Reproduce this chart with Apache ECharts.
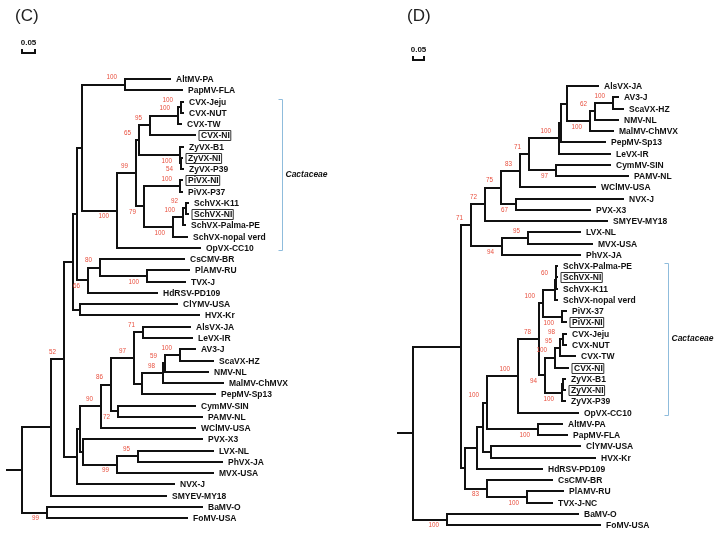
<!DOCTYPE html>
<html><head><meta charset="utf-8">
<script src="https://cdn.jsdelivr.net/npm/echarts@6/dist/echarts.min.js"></script>
<style>html,body{margin:0;padding:0;background:#fff}#c{width:722px;height:536px}</style>
</head><body><div id="c"></div>
<script>
// ---------- Tree (C): internal nodes [id, parent, depth] ----------
const leftInternal = [
 ['root',null,0],['D','root',0.112],['C','D',0.162],['B2','C',0.196],['B','B2',0.212],
 ['A','B',0.231],['AP','A',0.396],['Cact','A',0.365],['n99','Cact',0.438],['n65','n99',0.450],
 ['n95','n65',0.492],['nCVX','n95',0.600],['nCVXJN','nCVX',0.612],['nZy','n65',0.608],
 ['nZy54','nZy',0.612],['n79','n99',0.469],['nPi','n79',0.608],['nSch','n79',0.581],
 ['nSch100','nSch',0.619],['nSch92','nSch100',0.631],['Cs','B',0.254],['n80','Cs',0.300],
 ['nPT','n80',0.481],['nCH','B2',0.223],['E','C',0.212],['E2','E',0.223],['n90','E2',0.304],
 ['n86','n90',0.342],['n97','n86',0.431],['n71','n97',0.465],['nPep','n97',0.462],
 ['n98','nPep',0.542],['n59','n98',0.550],['nAV3','n59',0.608],['nCP','n86',0.369],
 ['nPL','E2',0.235],['n99b','nPL',0.365],['n95b','n99b',0.446],['BaFo','root',0.096]
];
// leaves top to bottom [name, parent, depth]
const leftLeaves = [
 ['AltMV-PA','AP',0.569],['PapMV-FLA','AP',0.615],['CVX-Jeju','nCVXJN',0.619],['CVX-NUT','nCVXJN',0.619],
 ['CVX-TW','nCVX',0.612],['CVX-NI','n95',0.665],['ZyVX-B1','nZy',0.619],['ZyVX-NI','nZy54',0.615],
 ['ZyVX-P39','nZy54',0.619],['PiVX-NI','nPi',0.615],['PiVX-P37','nPi',0.615],['SchVX-K11','nSch92',0.638],
 ['SchVX-NI','nSch92',0.638],['SchVX-Palma-PE','nSch100',0.627],['SchVX-nopal verd','nSch',0.635],
 ['OpVX-CC10','Cact',0.685],['CsCMV-BR','n80',0.623],['PlAMV-RU','nPT',0.642],['TVX-J','nPT',0.627],
 ['HdRSV-PD109','Cs',0.519],['ClYMV-USA','nCH',0.596],['HVX-Kr','nCH',0.681],['AlsVX-JA','n71',0.646],
 ['LeVX-IR','n71',0.654],['AV3-J','nAV3',0.665],['ScaVX-HZ','nAV3',0.735],['NMV-NL','n59',0.715],
 ['MalMV-ChMVX','n98',0.773],['PepMV-Sp13','nPep',0.742],['CymMV-SIN','nCP',0.665],['PAMV-NL','nCP',0.692],
 ['WClMV-USA','n90',0.665],['PVX-X3','nPL',0.692],['LVX-NL','n95b',0.735],['PhVX-JA','n95b',0.769],
 ['MVX-USA','n99b',0.735],['NVX-J','E',0.585],['SMYEV-MY18','D',0.554],['BaMV-O','BaFo',0.692],
 ['FoMV-USA','BaFo',0.635]
];
// bootstrap [node, value, 'a'bove/'b'elow]
const leftSupport = [
 ['AP',100,'a'],['nCVXJN',100,'a'],['nCVX',100,'a'],['n95',95,'a'],['n65',65,'a'],['nZy',100,'b'],
 ['nZy54',54,'b'],['n99',99,'a'],['nPi',100,'a'],['nSch92',92,'a'],['nSch100',100,'a'],['n79',79,'b'],
 ['nSch',100,'b'],['Cact',100,'b'],['n80',80,'a'],['Cs',66,'b'],['nPT',100,'b'],['n71',71,'a'],
 ['n97',97,'a'],['nAV3',100,'a'],['n59',59,'a'],['n98',98,'a'],['n86',86,'a'],['n90',90,'a'],
 ['nCP',72,'b'],['n95b',95,'a'],['n99b',99,'b'],['C',52,'a'],['BaFo',99,'b']
];
const leftBoxed = ['CVX-NI','ZyVX-NI','PiVX-NI','SchVX-NI'];
const leftClade = ['CVX-Jeju','OpVX-CC10'];
const leftRootStub = 0.058;

// ---------- Tree (D) ----------
const rightInternal = [
 ['root',null,0],['X','root',0.218],['N71b','X',0.264],['N72','N71b',0.327],['N75','N72',0.400],
 ['N83','N75',0.486],['N71','N83',0.527],['N100b','N71',0.664],['N100a','N100b',0.673],['P','N100a',0.700],
 ['PM','P',0.805],['N62','PM',0.827],['NAV','N62',0.909],['NCP','N71',0.650],['N67','N75',0.468],
 ['N94','N71b',0.405],['N95','N94',0.523],['Y','X',0.236],['Z','Y',0.291],['W','Z',0.318],['V','W',0.336],
 ['Cact','V',0.477],['N78','Cact',0.573],['S100','N78',0.591],['SchC','S100',0.645],['SchB','SchC',0.648],
 ['SchA','SchB',0.652],['NPi','S100',0.677],['N94c','N78',0.600],['NCVX','N94c',0.645],['N95c','NCVX',0.668],
 ['N98c','N95c',0.682],['NZy','N94c',0.677],['NZy2','NZy',0.682],['NAP','V',0.568],['NCH','W',0.355],
 ['N83b','Y',0.336],['NPT','N83b',0.518],['NBF','root',0.155]
];
const rightLeaves = [
 ['AlsVX-JA','P',0.841],['AV3-J','NAV',0.932],['ScaVX-HZ','NAV',0.955],['NMV-NL','N62',0.932],
 ['MalMV-ChMVX','PM',0.909],['PepMV-Sp13','N100a',0.873],['LeVX-IR','N100b',0.895],['CymMV-SIN','NCP',0.895],
 ['PAMV-NL','NCP',0.977],['WClMV-USA','N83',0.827],['NVX-J','N67',0.955],['PVX-X3','N67',0.805],
 ['SMYEV-MY18','N72',0.882],['LVX-NL','N95',0.759],['MVX-USA','N95',0.814],['PhVX-JA','N94',0.759],
 ['SchVX-Palma-PE','SchA',0.655],['SchVX-NI','SchA',0.655],['SchVX-K11','SchB',0.655],
 ['SchVX-nopal verd','SchC',0.655],['PiVX-37','NPi',0.695],['PiVX-NI','NPi',0.695],['CVX-Jeju','N98c',0.695],
 ['CVX-NUT','N98c',0.695],['CVX-TW','N95c',0.736],['CVX-NI','NCVX',0.705],['ZyVX-B1','NZy2',0.691],
 ['ZyVX-NI','NZy2',0.691],['ZyVX-P39','NZy',0.691],['OpVX-CC10','Cact',0.750],['AltMV-PA','NAP',0.677],
 ['PapMV-FLA','NAP',0.700],['ClYMV-USA','NCH',0.759],['HVX-Kr','NCH',0.827],['HdRSV-PD109','Z',0.586],
 ['CsCMV-BR','N83b',0.632],['PlAMV-RU','NPT',0.682],['TVX-J-NC','NPT',0.632],['BaMV-O','NBF',0.750],
 ['FoMV-USA','NBF',0.850]
];
const rightSupport = [
 ['N100b',100,'a'],['PM',100,'b'],['N62',62,'a'],['NAV',100,'a'],['N71',71,'a'],['NCP',97,'b'],
 ['N83',83,'a'],['N75',75,'a'],['N72',72,'a'],['N71b',71,'a'],['N67',67,'b'],['N95',95,'a'],['N94',94,'b'],
 ['SchB',60,'a'],['S100',100,'a'],['NPi',100,'b'],['N78',78,'a'],['N98c',98,'a'],['N95c',95,'a'],
 ['NCVX',100,'a'],['N94c',94,'b'],['NZy',100,'b'],['Cact',100,'a'],['NAP',100,'b'],['V',100,'a'],
 ['N83b',83,'b'],['NPT',100,'b'],['NBF',100,'b']
];
const rightBoxed = ['SchVX-NI','PiVX-NI','CVX-NI','ZyVX-NI'];
const rightClade = ['SchVX-Palma-PE','OpVX-CC10'];
const rightRootStub = 0.068;

const panelTitles = ['(C)','(D)'];
const scaleBarLength = 0.05;
const scaleBarLabel = '0.05';
const cladeName = 'Cactaceae';

// ---------- build ----------
function buildTree(internal, leaves) {
  const map = {};
  internal.forEach(([id,parent,depth]) => { map[id] = {id,parent,depth,kids:[],leaf:false}; });
  const leafNodes = leaves.map(([name,parent,depth],i) => ({id:name,parent,depth,kids:[],leaf:true,y:i}));
  const all = Object.values(map).concat(leafNodes);
  all.forEach(n => { if (n.parent !== null) map[n.parent].kids.push(n); });
  function yOf(n){ if (n.leaf) return n.y; const ys=n.kids.map(yOf); n.y0=Math.min(...ys); n.y1=Math.max(...ys); n.y=(n.y0+n.y1)/2; return n.y; }
  const root = all.find(n => n.parent === null);
  yOf(root);
  all.forEach(n => { n.pd = n.parent === null ? null : map[n.parent].depth; });
  const leafIndex = {}; leafNodes.forEach(n => leafIndex[n.id] = n.y);
  return {all, leafIndex};
}
const FONT = '"Liberation Sans", Arial, sans-serif';
const R = v => Math.round(v);

function treeSeries(idx, tree, stub, support, boxed) {
  const sup = {}; support.forEach(([id,v,pos]) => sup[id] = [v,pos]);
  const items = tree.all;
  const ls = {stroke:'#111', lineWidth:2, lineCap:'square'};
  return {
    type:'custom', xAxisIndex: idx, yAxisIndex: idx, silent:true, animation:false, clip:false,
    data: items.map(n => [n.depth, n.y]),
    renderItem: (params, api) => {
      const n = items[params.dataIndex];
      const pEnd = api.coord([n.depth, n.y]);
      const pStart = api.coord([n.parent === null ? -stub : n.pd, n.y]);
      const els = [];
      els.push({type:'line', shape:{x1:R(pStart[0]), y1:R(pEnd[1]), x2:R(pEnd[0]), y2:R(pEnd[1])}, style: ls});
      if (!n.leaf) {
        const a = api.coord([n.depth, n.y0]), b = api.coord([n.depth, n.y1]);
        els.push({type:'line', shape:{x1:R(a[0]), y1:R(a[1]), x2:R(b[0]), y2:R(b[1])}, style: ls});
      } else {
        const isBox = boxed.includes(n.id);
        const st = {text:n.id, font:'bold 8.5px ' + FONT, fill:'#111', verticalAlign:'middle', align:'left'};
        if (isBox) Object.assign(st, {borderColor:'#333', borderWidth:1, padding:[1,1,0,2], lineHeight:9});
        els.push({type:'text', x: R(pEnd[0]) + (isBox ? 4 : 6), y: R(pEnd[1]) + 0.5, style: st});
      }
      if (sup[n.id]) {
        const [v,pos] = sup[n.id];
        els.push({type:'text', x: R(pEnd[0]) - 8, y: pEnd[1] + (pos === 'a' ? -7 : 6),
          style:{text:String(v), font:'6.3px ' + FONT, fill:'#e8503f', align:'right', verticalAlign:'middle'}});
      }
      return {type:'group', children: els};
    }
  };
}

function extraSeries(idx, tree, clade, bracketDepth, title) {
  return {
    type:'custom', xAxisIndex: idx, yAxisIndex: idx, silent:true, animation:false, clip:false,
    data: [[0, -2.3]],
    renderItem: (params, api) => {
      const els = [];
      // scale bar
      const s0 = api.coord([0, -2.3]), s1 = api.coord([scaleBarLength, -2.3]);
      const x0 = R(s0[0]), x1 = R(s1[0]), y = R(s0[1]);
      els.push({type:'polyline', shape:{points:[[x0,y-4],[x0,y],[x1,y],[x1,y-4]]}, style:{stroke:'#111', lineWidth:2, fill:null}});
      els.push({type:'text', x:(x0+x1)/2, y:y-10, style:{text:scaleBarLabel, font:'bold 8px ' + FONT, fill:'#111', align:'center', verticalAlign:'middle'}});
      // clade bracket
      const t = tree.leafIndex[clade[0]], b = tree.leafIndex[clade[1]];
      const pt = api.coord([bracketDepth, t - 0.25]), pb = api.coord([bracketDepth, b + 0.2]);
      const bx = R(pt[0]) + 0.5;
      els.push({type:'polyline', shape:{points:[[bx-4,R(pt[1])+0.5],[bx,R(pt[1])+0.5],[bx,R(pb[1])+0.5],[bx-4,R(pb[1])+0.5]]}, style:{stroke:'#8fbcdc', lineWidth:1, fill:null}});
      els.push({type:'text', x: bx + 3, y: (pt[1]+pb[1])/2, style:{text:cladeName, font:'italic bold 8.5px ' + FONT, fill:'#111', align:'left', verticalAlign:'middle'}});
      return {type:'group', children: els};
    }
  };
}

const leftTree = buildTree(leftInternal, leftLeaves);
const rightTree = buildTree(rightInternal, rightLeaves);

// pixel scales of the two panels (0.05 bar is 13px on the left, 11px on the right)
const LPX = 260, RPX = 220, ROW = 11.26;
const option = {
  animation:false,
  grid:[{left:0, top:0, width:361, height:536}, {left:361, top:0, width:361, height:536}],
  xAxis:[
    {type:'value', gridIndex:0, min:-22/LPX, max:(361-22)/LPX, show:false},
    {type:'value', gridIndex:1, min:-(413-361)/RPX, max:(722-413)/RPX, show:false}
  ],
  yAxis:[
    {type:'value', gridIndex:0, inverse:true, min:-79/ROW, max:(536-79)/ROW, show:false},
    {type:'value', gridIndex:1, inverse:true, min:-86/ROW, max:(536-86)/ROW, show:false}
  ],
  graphic:[
    {type:'text', x:15, y:16, style:{text:panelTitles[0], font:'17px ' + FONT, fill:'#222', verticalAlign:'middle'}},
    {type:'text', x:407, y:16, style:{text:panelTitles[1], font:'17px ' + FONT, fill:'#222', verticalAlign:'middle'}}
  ],
  series:[
    treeSeries(0, leftTree, leftRootStub, leftSupport, leftBoxed),
    treeSeries(1, rightTree, rightRootStub, rightSupport, rightBoxed),
    extraSeries(0, leftTree, leftClade, (282-22)/LPX),
    extraSeries(1, rightTree, rightClade, (668-413)/RPX)
  ]
};
const chart = echarts.init(document.getElementById('c'), null, {renderer:'canvas'});
chart.setOption(option);
</script></body></html>
